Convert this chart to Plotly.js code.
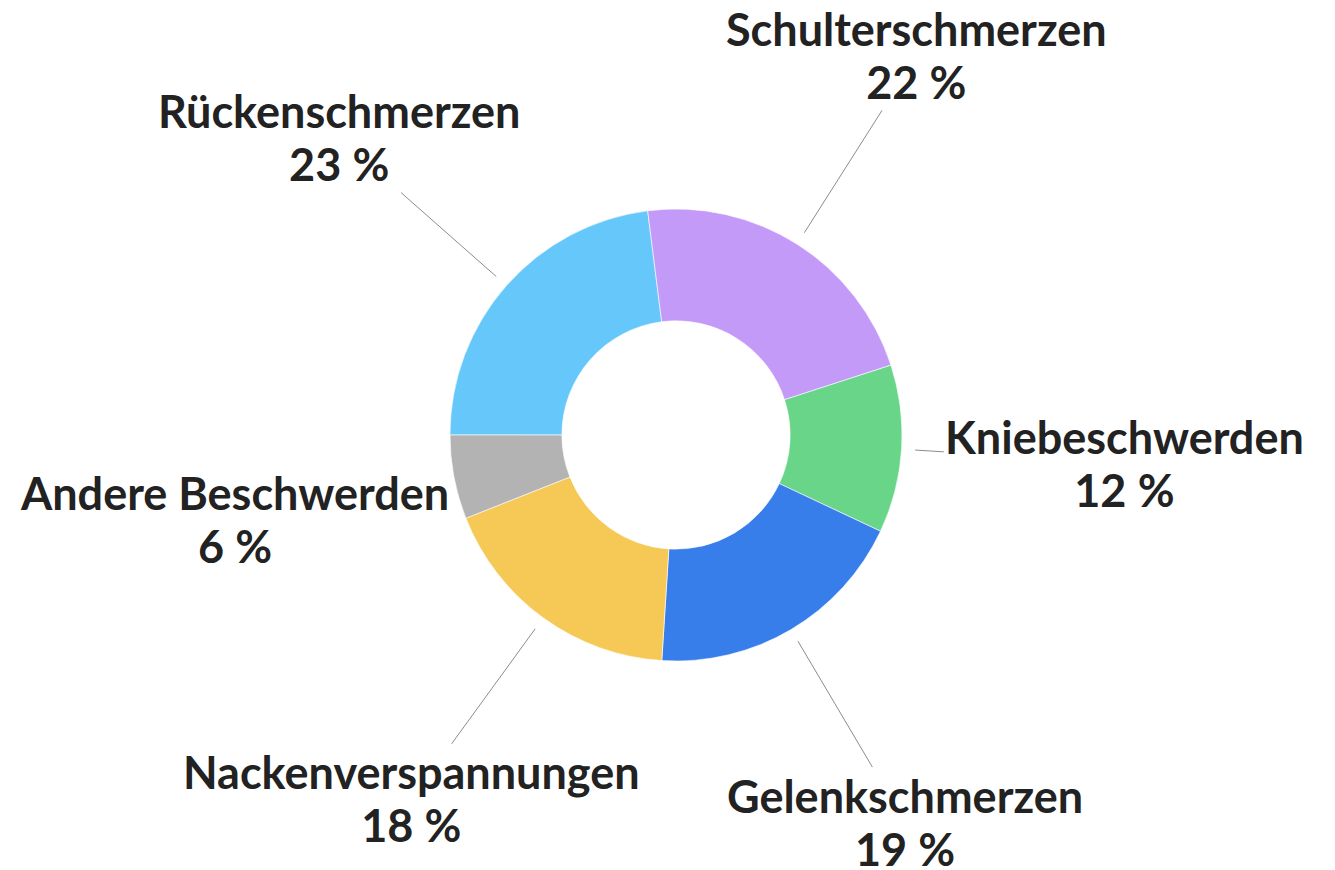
<!DOCTYPE html>
<html>
<head>
<meta charset="utf-8">
<script src="https://cdn.plot.ly/plotly-3.0.1.min.js"></script>
<style>
  html, body { margin: 0; padding: 0; background: #ffffff; }
  #chart { width: 1335px; height: 870px; }
</style>
</head>
<body>
<div id="chart"></div>
<script>
// ---- data ----
const categories = ["Rückenschmerzen", "Schulterschmerzen", "Kniebeschwerden", "Gelenkschmerzen", "Nackenverspannungen", "Andere Beschwerden"];
const shares = [23, 22, 12, 19, 18, 6];

// ---- styles ----
const sliceColors = ["#66C7FA", "#C49AF8", "#68D588", "#377EEA", "#F6C956", "#B3B3B3"];
const W = 1335, H = 870;
const CX = 676, CY = 435, R = 226;     // donut centre and outer radius (px)
const HOLE = 0.505;
const START_ANGLE = -90;               // first slice starts at 9 o'clock
const TIP_R = 1.06, TEXT_R = 1.99;     // leader line tip / label centre (in R)
const LINE_FONT = 41;                  // sets line spacing
const GLYPH_SIZE = 45;                 // visible glyph size
const FONT = { family: "Lato, 'Open Sans', sans-serif", size: LINE_FONT, color: "#222222", weight: 700 };

const total = shares.reduce((a, b) => a + b, 0);

function pt(theta, r) {
  const t = theta * Math.PI / 180;
  return [CX + r * R * Math.sin(t), CY - r * R * Math.cos(t)];
}

const canvas = document.createElement("canvas");
const ctx = canvas.getContext("2d");
ctx.font = "700 " + GLYPH_SIZE + "px Lato";

const sp = s => '<span style="font-size:' + GLYPH_SIZE + 'px">' + s + '</span>';

const annotations = [];
let cum = 0;
shares.forEach((v, i) => {
  const mid = START_ANGLE + (cum + v / 2) / total * 360;
  cum += v;
  const pct = v + "\u202F%";
  const text = sp(categories[i]) + "<br>" + sp(pct);
  const [tx, ty] = pt(mid, TIP_R);
  const [lx, ly] = pt(mid, TEXT_R);
  const halfW = Math.max(ctx.measureText(categories[i]).width, ctx.measureText(v + " %").width) / 2 + 2;
  const halfH = 1.3 * LINE_FONT + 2;
  const tipInside = Math.abs(tx - lx) < halfW && Math.abs(ty - ly) < halfH;
  const ann = {
    xref: "paper", yref: "paper",
    x: tx / W, y: 1 - ty / H,
    axref: "pixel", ayref: "pixel",
    ax: lx - tx, ay: ly - ty,
    text: text,
    showarrow: true,
    arrowhead: 0, arrowwidth: 1, arrowcolor: "#8c8c8c", standoff: 0,
    font: FONT,
    align: "center"
  };
  if (tipInside) {
    ann.showarrow = false;
    ann.x = lx / W; ann.y = 1 - ly / H;
    ann.xanchor = "center"; ann.yanchor = "middle";
    delete ann.ax; delete ann.ay; delete ann.axref; delete ann.ayref;
  }
  annotations.push(ann);
});

const trace = {
  type: "pie",
  labels: categories,
  values: shares,
  hole: HOLE,
  sort: false,
  direction: "clockwise",
  rotation: START_ANGLE,
  textinfo: "none",
  hoverinfo: "label+percent",
  marker: { colors: sliceColors, line: { color: "#ffffff", width: 0.6 } },
  domain: { x: [(CX - R) / W, (CX + R) / W], y: [1 - (CY + R) / H, 1 - (CY - R) / H] },
  showlegend: false
};

const layout = {
  width: W, height: H,
  margin: { l: 0, r: 0, t: 0, b: 0 },
  paper_bgcolor: "#ffffff",
  plot_bgcolor: "#ffffff",
  showlegend: false,
  annotations: annotations
};

Plotly.newPlot("chart", [trace], layout, { displayModeBar: false, staticPlot: true });
</script>
</body>
</html>
